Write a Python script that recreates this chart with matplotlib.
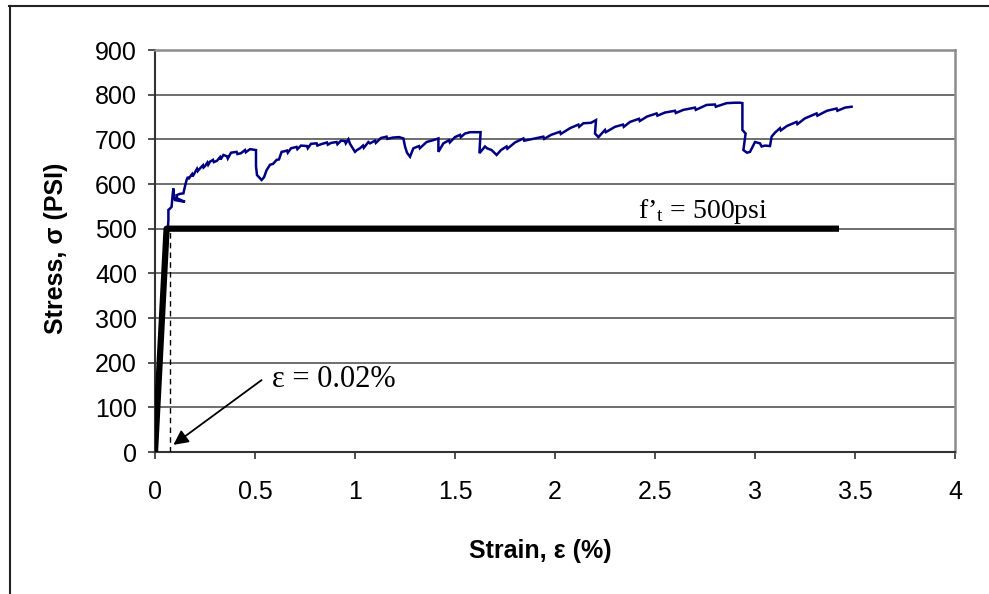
import matplotlib
matplotlib.use("Agg")
import matplotlib.pyplot as plt
from matplotlib.lines import Line2D

plt.rcParams['font.family'] = ['Liberation Sans', 'DejaVu Sans']
plt.rcParams['mathtext.fontset'] = 'custom'
plt.rcParams['mathtext.rm'] = 'Liberation Serif'
plt.rcParams['mathtext.it'] = 'Liberation Serif:italic'

# Measured tensile response (strain in %, stress in psi)
test_strain = [0.0, 0.02, 0.04, 0.06, 0.065, 0.067, 0.067, 0.075, 0.083, 0.088, 0.092, 0.095,
               0.10, 0.15, 0.11, 0.108, 0.125, 0.142, 0.15, 0.158, 0.165, 0.168, 0.175, 0.185,
               0.188, 0.20, 0.21, 0.214, 0.225, 0.24, 0.243, 0.25, 0.262, 0.266, 0.275, 0.29,
               0.294, 0.31, 0.325, 0.328, 0.342, 0.36, 0.364, 0.38, 0.395, 0.408, 0.412, 0.43,
               0.45, 0.454, 0.475, 0.49, 0.505, 0.505, 0.51, 0.533, 0.545, 0.558, 0.575, 0.59,
               0.608, 0.62, 0.633, 0.645, 0.66, 0.664, 0.68, 0.708, 0.712, 0.73, 0.76, 0.764,
               0.78, 0.808, 0.812, 0.83, 0.86, 0.864, 0.88, 0.908, 0.912, 0.93, 0.95, 0.954,
               0.967, 0.975, 1.0, 1.01, 1.025, 1.04, 1.044, 1.067, 1.075, 1.1, 1.104, 1.13,
               1.158, 1.162, 1.19, 1.22, 1.242, 1.25, 1.26, 1.275, 1.292, 1.32, 1.324, 1.358,
               1.39, 1.417, 1.417, 1.442, 1.47, 1.474, 1.5, 1.525, 1.529, 1.55, 1.575, 1.6,
               1.628, 1.622, 1.65, 1.66, 1.683, 1.708, 1.73, 1.758, 1.762, 1.8, 1.842, 1.846,
               1.89, 1.942, 1.946, 1.98, 2.025, 2.029, 2.075, 2.117, 2.121, 2.142, 2.18, 2.205,
               2.2, 2.217, 2.25, 2.254, 2.3, 2.34, 2.344, 2.375, 2.42, 2.424, 2.46, 2.508,
               2.512, 2.55, 2.6, 2.604, 2.642, 2.7, 2.704, 2.758, 2.8, 2.804, 2.858, 2.9,
               2.925, 2.937, 2.937, 2.953, 2.942, 2.96, 2.975, 3.0, 3.025, 3.033, 3.05, 3.075,
               3.083, 3.1, 3.125, 3.129, 3.16, 3.208, 3.212, 3.25, 3.308, 3.312, 3.36, 3.408,
               3.412, 3.45, 3.483]
test_stress = [0, 160, 330, 480, 505, 519, 542, 545, 549, 575, 590, 572,
               564, 560, 568, 575, 578, 579, 595, 609, 616, 611, 616, 622,
               617, 626, 634, 629, 635, 642, 637, 640, 648, 643, 650, 654,
               649, 652, 660, 655, 665, 662, 657, 670, 671, 672, 667, 669,
               676, 671, 678, 677, 676, 640, 620, 609, 615, 631, 643, 645,
               654, 655, 672, 673, 675, 670, 680, 683, 678, 686, 685, 680,
               690, 691, 686, 689, 693, 688, 692, 694, 689, 697, 696, 691,
               700, 690, 672, 676, 680, 686, 681, 694, 691, 697, 692, 703,
               706, 701, 704, 705, 702, 684, 670, 661, 680, 685, 680, 694,
               698, 702, 672, 691, 698, 693, 705, 710, 705, 713, 716, 716,
               716, 669, 684, 680, 676, 665, 676, 684, 679, 693, 702, 697,
               701, 706, 701, 710, 717, 712, 725, 733, 728, 736, 737, 743,
               713, 705, 721, 716, 728, 733, 728, 739, 746, 741, 751, 758,
               753, 760, 764, 759, 766, 771, 766, 777, 778, 773, 781, 782,
               782, 781, 721, 713, 676, 670, 672, 694, 691, 684, 686, 685,
               706, 715, 725, 720, 730, 739, 734, 747, 758, 753, 764, 769,
               764, 771, 773]

# Idealised bilinear model
model_strain = [0.0, 0.058, 3.42]
model_stress = [0, 500, 500]
ft = 500
crack_strain = 0.075

x_ticks = [0, 0.5, 1, 1.5, 2, 2.5, 3, 3.5, 4]
x_tick_labels = ['0', '0.5', '1', '1.5', '2', '2.5', '3', '3.5', '4']
y_ticks = [0, 100, 200, 300, 400, 500, 600, 700, 800, 900]

fig = plt.figure(figsize=(9.89, 5.94), dpi=100)
ax = fig.add_axes([155 / 989, 1 - 452 / 594, 800 / 989, 402 / 594])

ax.plot(test_strain, test_stress, color='#000080', lw=1.8, zorder=3,
        solid_joinstyle='miter')
ax.plot(model_strain, model_stress, color='black', lw=4.5, solid_capstyle='butt', zorder=4)
ax.plot([crack_strain, crack_strain], [0, ft], color='black', lw=1.0,
        linestyle=(0, (4, 3)), zorder=3)

ax.set_xlim(0, 4)
ax.set_ylim(0, 900)
ax.set_xticks(x_ticks)
ax.set_xticklabels(x_tick_labels)
ax.set_yticks(y_ticks)
ax.yaxis.grid(True, color='#555555', lw=1.2)
ax.set_axisbelow(True)

for side in ('top', 'right'):
    ax.spines[side].set_color('#8c8c8c')
    ax.spines[side].set_linewidth(1.8)
for side in ('left', 'bottom'):
    ax.spines[side].set_color('#333333')
    ax.spines[side].set_linewidth(1.5)

ax.tick_params(axis='both', direction='out', length=5, width=1.2, color='#333333',
               labelsize=18, labelcolor='black')
ax.tick_params(axis='x', pad=15)
ax.tick_params(axis='y', pad=8)

fig.text(540 / 989, 1 - 551 / 594, 'Strain, ε (%)', ha='center', va='center',
         fontsize=18, fontweight='bold')
fig.text(56 / 989, 1 - 248 / 594, 'Stress, σ (PSI)', ha='center', va='center',
         rotation=90, fontsize=18, fontweight='bold')

ax.text(2.415, 524, r'f’$_{\mathrm{t}}$ = 500psi', family='Liberation Serif',
        fontsize=20, ha='left', va='baseline')
ax.text(0.584, 146, 'ε = 0.02%', family='Liberation Serif', fontsize=22,
        ha='left', va='baseline')
ax.annotate('', xy=(0.092, 16), xytext=(0.533, 161),
            arrowprops=dict(arrowstyle='-|>', color='black', lw=1.3,
                            mutation_scale=22, shrinkA=0, shrinkB=0))

# Frame lines along the top and left edges of the figure
fig.add_artist(Line2D([9 / 989, 1.0], [1 - 5.5 / 594, 1 - 5.5 / 594],
                      transform=fig.transFigure, color='#222222', lw=1.5))
fig.add_artist(Line2D([9.5 / 989, 9.5 / 989], [0.0, 1 - 5.5 / 594],
                      transform=fig.transFigure, color='#222222', lw=1.5))

fig.savefig('out.png', dpi=100)
